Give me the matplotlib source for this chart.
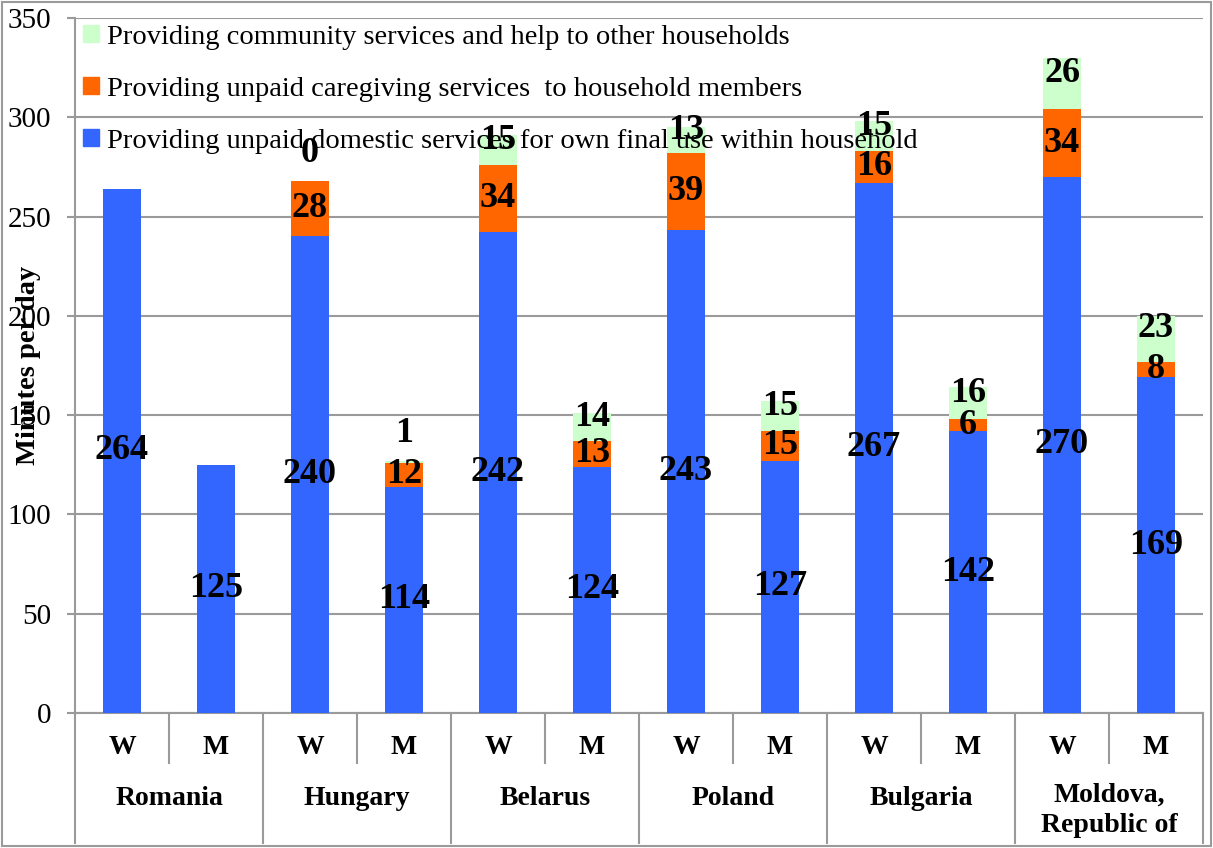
import matplotlib
matplotlib.use("Agg")
import matplotlib.pyplot as plt
from matplotlib.patches import Rectangle, Patch

countries = ["Romania", "Hungary", "Belarus", "Poland", "Bulgaria", "Moldova,\nRepublic of"]
sexes = ["W", "M"]
domestic = [264, 125, 240, 114, 242, 124, 243, 127, 267, 142, 270, 169]
caregiving = [0, 0, 28, 12, 34, 13, 39, 15, 16, 6, 34, 8]
community = [0, 0, 0, 1, 15, 14, 13, 15, 15, 16, 26, 23]
# Romania has no labels for the two upper series
show_upper = [False, False, True, True, True, True, True, True, True, True, True, True]

c_blue = "#3366FF"
c_orange = "#FF6600"
c_green = "#CCFFCC"
grey = "#9A9A9A"

plt.rcParams["font.family"] = ["Liberation Serif", "DejaVu Serif"]

fig = plt.figure(figsize=(12.13, 8.48), dpi=100)
ax = fig.add_axes([75 / 1213, 1 - 713 / 848, 1128 / 1213, 695 / 848])

x = list(range(len(domestic)))
w = 0.4
bottom2 = domestic
bottom3 = [a + b for a, b in zip(domestic, caregiving)]
ax.bar(x, domestic, w, color=c_blue, zorder=3)
ax.bar(x, caregiving, w, bottom=bottom2, color=c_orange, zorder=3)
ax.bar(x, community, w, bottom=bottom3, color=c_green, zorder=3)

lab = dict(ha="center", va="center", fontsize=26, fontweight="bold", zorder=5)
for i in x:
    ax.text(i, domestic[i] / 2, str(domestic[i]), **lab)
    if not show_upper[i]:
        continue
    ax.text(i, domestic[i] + caregiving[i] / 2, str(caregiving[i]), **lab)
    top = bottom3[i] + community[i]
    if community[i] <= 2:
        ax.text(i, top + 14, str(community[i]), **lab)
    else:
        ax.text(i, bottom3[i] + community[i] / 2 + 5, str(community[i]), **lab)

ax.set_xlim(-0.5, 11.5)
ax.set_ylim(0, 350)
ax.set_yticks(range(0, 351, 50))
ax.yaxis.grid(True, color=grey, lw=1.5, zorder=0)
ax.tick_params(axis="y", labelsize=21, length=6, width=1.5, color=grey, pad=11)
ax.set_xticks([])
for s in ["top", "right"]:
    ax.spines[s].set_visible(False)
ax.spines["left"].set_color(grey)
ax.spines["left"].set_linewidth(1.5)
ax.spines["bottom"].set_color(grey)
ax.spines["bottom"].set_linewidth(1.5)
ax.set_ylabel("Minutes per day", fontsize=20.5, fontweight="bold")
ax.yaxis.set_label_coords(-0.030, 0.5)

# category table under the axis
tr = ax.get_xaxis_transform()
for i in x:
    ax.text(i, -0.05, sexes[i % 2], transform=tr, ha="center", va="center",
            fontsize=20, fontweight="bold")
    if i % 2 == 0:
        ax.plot([i + 0.5, i + 0.5], [0, -0.072], transform=tr, color=grey,
                lw=1.5, clip_on=False)
for k, name in enumerate(countries):
    yy = -0.14 if "\n" in name else -0.123
    ax.text(2 * k + 0.5, yy, name, transform=tr, ha="center", va="center",
            fontsize=20, fontweight="bold", linespacing=1.25)
for k in range(len(countries) + 1):
    ax.plot([2 * k - 0.5, 2 * k - 0.5], [0, -0.187], transform=tr, color=grey,
            lw=1.5, clip_on=False)

handles = [Patch(color=c_green), Patch(color=c_orange), Patch(color=c_blue)]
labels = ["Providing community services and help to other households",
          "Providing unpaid caregiving services  to household members",
          "Providing unpaid domestic services for own final use within household"]
ax.legend(handles, labels, loc="upper left", bbox_to_anchor=(0.0, 1.002),
          frameon=False, fontsize=20.5, handlelength=0.55, handleheight=0.55,
          handletextpad=0.28, labelspacing=0.95, borderaxespad=0, borderpad=0.28)

fig.patches.append(Rectangle((0.002, 0.002), 0.996, 0.996, transform=fig.transFigure,
                             fill=False, edgecolor=grey, lw=1.5))

fig.savefig("out.png", dpi=100)
